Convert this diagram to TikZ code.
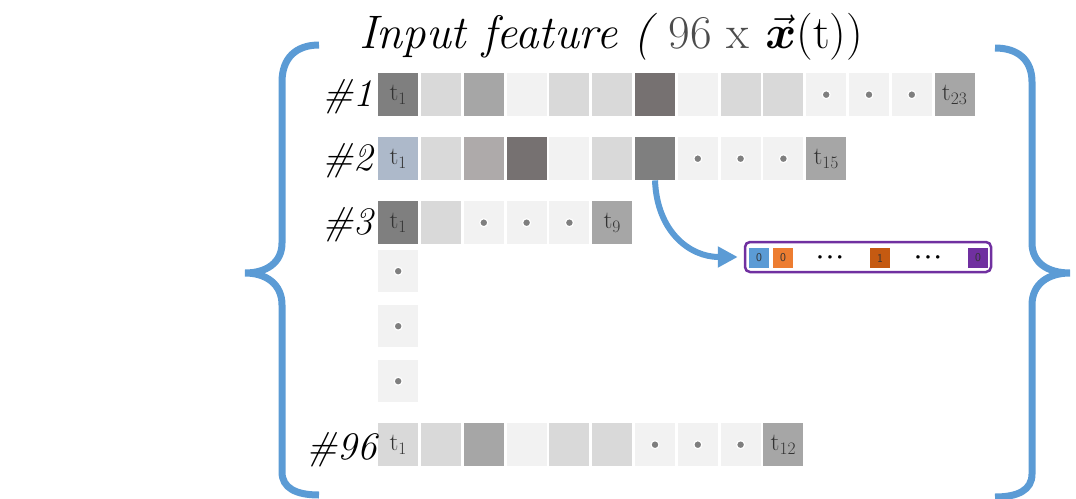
\RequirePackage{fix-cm}
\documentclass[tikz,border=0pt]{standalone}
\usepackage{amsmath}
\usetikzlibrary{arrows.meta}
\definecolor{kAc}{HTML}{F2F2F2}
\definecolor{kBc}{HTML}{D9D9D9}
\definecolor{kCc}{HTML}{A6A6A6}
\definecolor{kDc}{HTML}{7F7F7F}
\definecolor{kEc}{HTML}{767171}
\definecolor{kFc}{HTML}{AEAAAA}
\definecolor{kGc}{HTML}{ADB9CA}
\definecolor{bblue}{HTML}{5B9BD5}
\definecolor{vorange}{HTML}{ED7D31}
\definecolor{vdorange}{HTML}{C55A11}
\definecolor{vpurple}{HTML}{7030A0}
\definecolor{dotgray}{HTML}{7F7F7F}
\newcommand\tsub[1]{$\mathrm{t}_{#1}$}
\begin{document}
\begin{tikzpicture}[x=1pt,y=-1pt,
  cellbox/.style={minimum width=40pt,minimum height=43pt,inner sep=0pt,anchor=north west,
    font=\fontsize{25}{27}\selectfont,text=black!80},
  kA/.style={fill=kAc},kB/.style={fill=kBc},kC/.style={fill=kCc},kD/.style={fill=kDc},
  kE/.style={fill=kEc},kF/.style={fill=kFc},kG/.style={fill=kGc},
  kdot/.style={fill=kAc,path picture={\fill[dotgray,draw=white,line width=1.2pt]
    (path picture bounding box.center) circle (4pt);}},
  lab/.style={anchor=east,inner sep=0pt,font=\fontsize{39}{42}\itshape\selectfont},
  brace/.style={draw=bblue,line width=7pt},
  vcell/.style={minimum width=20pt,minimum height=20pt,inner sep=0pt,font=\fontsize{12}{13}\sffamily\selectfont,text=black!80},
  vdots/.style={inner sep=0pt,font=\fontsize{13}{13}\selectfont},
  bigarrow/.style={draw=bblue,line width=6pt,-{Triangle[length=20pt,width=20pt]}}
]
\useasboundingbox (0,0) rectangle (1076,498);
% title
\node[font=\fontsize{47}{52}\itshape\selectfont,inner sep=0pt] (title) at (611,37)
  {Input feature ( {\upshape\color{black!70}96 x} $\vec{\boldsymbol{x}}$\upshape(t))};
% braces
\draw[brace] (319,45) .. controls (296,45) and (282,58) .. (282,82) -- (282,243)
  .. controls (282,263) and (266,273) .. (245,273)
  .. controls (266,273) and (282,284) .. (282,305) -- (282,472)
  .. controls (282,488) and (296,495) .. (319,495);
\draw[brace] (995,48) .. controls (1018,48) and (1032,60) .. (1032,82) -- (1032,243)
  .. controls (1032,263) and (1048,273) .. (1070,273)
  .. controls (1048,273) and (1032,284) .. (1032,305) -- (1032,474)
  .. controls (1032,490) and (1018,497) .. (995,497);
% row 1
\foreach \k/\t [count=\i] in {kD/\tsub{1},kB/,kC/,kA/,kB/,kB/,kE/,kA/,kB/,kB/,kdot/,kdot/,kdot/,kC/\tsub{23}}
  \node[cellbox,\k] (r1c\i) at ({378+42.8*(\i-1)},73) {\t};
% row 2
\foreach \k/\t [count=\i] in {kG/\tsub{1},kB/,kF/,kE/,kA/,kB/,kD/,kdot/,kdot/,kdot/,kC/\tsub{15}}
  \node[cellbox,\k] (r2c\i) at ({378+42.8*(\i-1)},137) {\t};
% row 3
\foreach \k/\t [count=\i] in {kD/\tsub{1},kB/,kdot/,kdot/,kdot/,kC/\tsub{9}}
  \node[cellbox,\k] (r3c\i) at ({378+42.8*(\i-1)},201) {\t};
% vertical dots
\foreach \y [count=\i] in {250,305,360}
  \node[cellbox,kdot,minimum height=42pt] (vd\i) at (378,\y) {};
% row 96
\foreach \k/\t [count=\i] in {kB/\tsub{1},kB/,kC/,kA/,kB/,kB/,kdot/,kdot/,kdot/,kC/\tsub{12}}
  \node[cellbox,\k] (r96c\i) at ({378+42.8*(\i-1)},423) {\t};
% labels
\node[lab] (l1) at (373,97) {\#1};
\node[lab] (l2) at (373,161) {\#2};
\node[lab] (l3) at (373,225) {\#3};
\node[lab] (l96) at (377,450) {\#96};
% vector box
\node[draw=vpurple,line width=2.5pt,rounded corners=5pt,minimum width=246pt,minimum height=30pt,inner sep=0pt]
  (vec) at (868,257) {};
\node[vcell,fill=bblue] (v1) at (759,258) {0};
\node[vcell,fill=vorange] (v2) at (783,258) {0};
\node[vdots] (d1) at (830,258) {\textbullet\textbullet\textbullet};
\node[vcell,fill=vdorange] (v3) at (880,258) {1};
\node[vdots] (d2) at (928,258) {\textbullet\textbullet\textbullet};
\node[vcell,fill=vpurple] (v4) at (978,258) {0};
% arrow
\draw[bigarrow,shorten >=6pt] (r2c7.south) .. controls (657,232) and (690,257) .. (vec.west);
\end{tikzpicture}
\end{document}
